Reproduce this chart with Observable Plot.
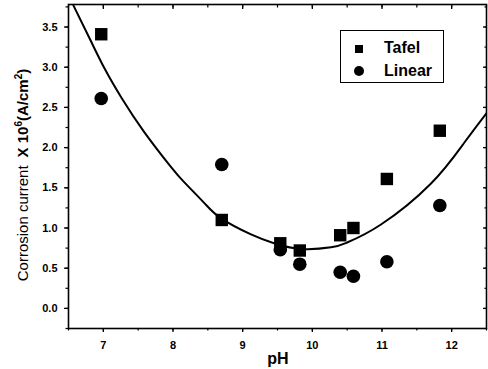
<!DOCTYPE html>
<html>
<head>
<meta charset="utf-8">
<script src="https://cdn.jsdelivr.net/npm/d3@7"></script>
<script src="https://cdn.jsdelivr.net/npm/@observablehq/plot@0.6"></script>
<style>
  html, body { margin: 0; padding: 0; background: #fff; }
  #chart svg { display: block; }
</style>
</head>
<body>
<div id="chart"></div>
<script>
// Measured data
const phValues = [6.97, 8.70, 9.54, 9.82, 10.40, 10.59, 11.07, 11.83];
const tafelValues = [3.41, 1.10, 0.81, 0.72, 0.91, 1.00, 1.61, 2.21];
const linearValues = [2.61, 1.79, 0.73, 0.55, 0.45, 0.40, 0.58, 1.28];

// Fitted curve
const curvePh = [6.57, 6.83, 7.02, 7.26, 7.59, 7.97, 8.16, 8.45, 8.69, 9.12, 9.45, 9.83, 10.27, 10.50, 10.98, 11.70, 12.18, 12.51];
const curveY  = [3.77, 3.31, 2.98, 2.62, 2.19, 1.76, 1.57, 1.31, 1.12, 0.92, 0.81, 0.74, 0.76, 0.82, 1.04, 1.55, 2.06, 2.44];

// Axis ticks
const xTicks = [7, 8, 9, 10, 11, 12];
const xMinor = [6.5, 7, 7.5, 8, 8.5, 9, 9.5, 10, 10.5, 11, 11.5, 12, 12.5];
const yTicks = [0, 0.5, 1, 1.5, 2, 2.5, 3, 3.5];
const yMinor = [-0.25, 0, 0.25, 0.5, 0.75, 1, 1.25, 1.5, 1.75, 2, 2.25, 2.5, 2.75, 3, 3.25, 3.5, 3.75];
const seriesNames = ["Tafel", "Linear"];

const tafel = phValues.map((x, i) => ({x, y: tafelValues[i]}));
const linear = phValues.map((x, i) => ({x, y: linearValues[i]}));
const curve = curvePh.map((x, i) => ({x, y: curveY[i]}));

const font = "'Liberation Sans', Arial, sans-serif";

const plot = Plot.plot({
  width: 488,
  height: 369,
  marginLeft: 68,
  marginRight: 2,
  marginTop: 4,
  marginBottom: 41,
  style: {fontFamily: font, background: "#fff", color: "#000", overflow: "visible"},
  x: {domain: [6.5, 12.5]},
  y: {domain: [-0.25, 3.78]},
  marks: [
    Plot.line(curve, {x: "x", y: "y", curve: "natural", stroke: "#000", strokeWidth: 2, clip: true}),
    Plot.dot(tafel, {x: "x", y: "y", symbol: "square", r: 7, fill: "#000", stroke: "none"}),
    Plot.dot(linear, {x: "x", y: "y", symbol: "circle", r: 6.8, fill: "#000", stroke: "none"}),
    Plot.frame({stroke: "#000", strokeWidth: 1.6}),
    // bottom axis
    Plot.axisX({anchor: "bottom", ticks: xTicks, tickSize: 4, tickPadding: 9, fontSize: 11, fontWeight: "bold", label: null, tickFormat: d => d, strokeWidth: 1.3}),
    Plot.axisX({anchor: "bottom", ticks: xMinor, tickSize: 2.5, text: null, label: null, strokeWidth: 1.2}),
    // top axis (inward)
    Plot.axisX({anchor: "top", ticks: xTicks, tickSize: -4, text: null, label: null, strokeWidth: 1.3}),
    Plot.axisX({anchor: "top", ticks: xMinor, tickSize: -2.5, text: null, label: null, strokeWidth: 1.2}),
    // left axis
    Plot.axisY({anchor: "left", ticks: yTicks, tickSize: 4, tickPadding: 7, fontSize: 11, fontWeight: "bold", label: null, tickFormat: d3.format(".1f"), strokeWidth: 1.3}),
    Plot.axisY({anchor: "left", ticks: yMinor, tickSize: 2.5, text: null, label: null, strokeWidth: 1.2}),
    // right axis (inward)
    Plot.axisY({anchor: "right", ticks: yTicks, tickSize: -4, text: null, label: null, strokeWidth: 1.3}),
    Plot.axisY({anchor: "right", ticks: yMinor, tickSize: -2.5, text: null, label: null, strokeWidth: 1.2})
  ]
});

const svg = d3.select(plot);

// x label
svg.append("text")
  .attr("x", 278).attr("y", 364)
  .attr("text-anchor", "middle")
  .attr("font-family", font).attr("font-size", 16).attr("font-weight", "bold")
  .text("pH");

// y label
const yl = svg.append("text")
  .attr("transform", "translate(28,175) rotate(-90)")
  .attr("text-anchor", "middle")
  .attr("font-family", font).attr("font-size", 15);
yl.append("tspan").text("Corrosion current");
yl.append("tspan").attr("font-weight", "bold").attr("dx", 8).text("X 10");
yl.append("tspan").attr("font-weight", "bold").attr("font-size", 10).attr("dy", -6).text("6");
yl.append("tspan").attr("font-weight", "bold").attr("dy", 6).text("(A/cm");
yl.append("tspan").attr("font-weight", "bold").attr("font-size", 10).attr("dy", -6).text("2");
yl.append("tspan").attr("font-weight", "bold").attr("dy", 6).text(")");

// legend
const lg = svg.append("g").attr("font-family", font).attr("text-anchor", "start");
lg.append("rect").attr("x", 340.5).attr("y", 30.5).attr("width", 103).attr("height", 52)
  .attr("fill", "#fff").attr("stroke", "#000").attr("stroke-width", 1);
lg.append("rect").attr("x", 355).attr("y", 45).attr("width", 8).attr("height", 8).attr("fill", "#000");
lg.append("circle").attr("cx", 359).attr("cy", 71).attr("r", 5).attr("fill", "#000");
lg.append("text").attr("x", 384).attr("y", 53).attr("font-size", 16).attr("font-weight", "bold").text(seriesNames[0]);
lg.append("text").attr("x", 384).attr("y", 76).attr("font-size", 16).attr("font-weight", "bold").text(seriesNames[1]);

document.getElementById("chart").appendChild(plot);
</script>
</body>
</html>
